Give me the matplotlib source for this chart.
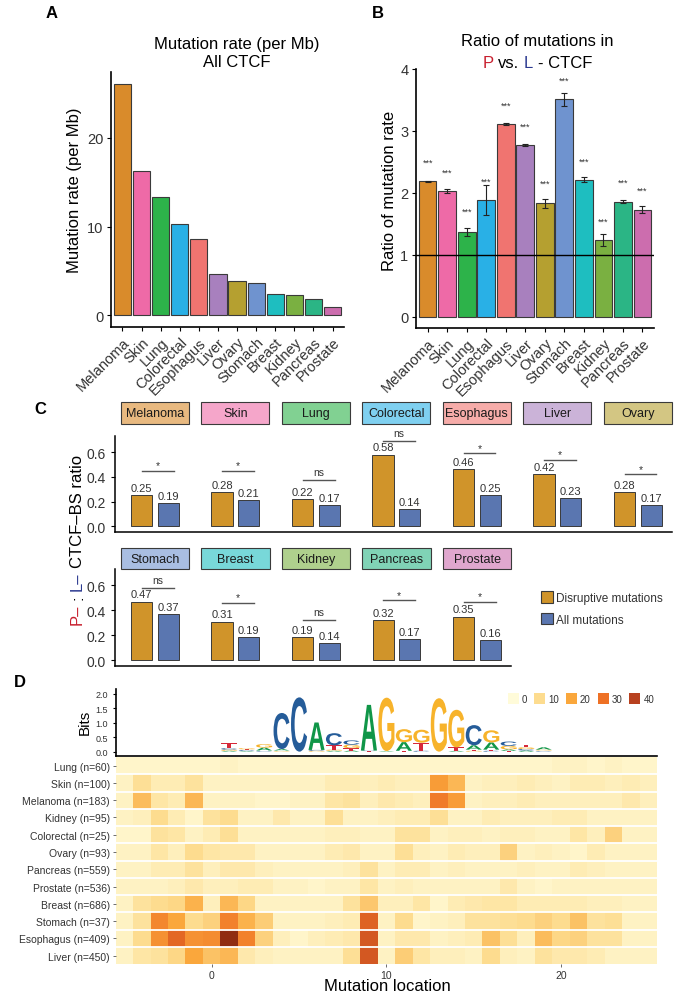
import numpy as np
import matplotlib
matplotlib.use("Agg")
import matplotlib.pyplot as plt
from matplotlib.patches import Rectangle, PathPatch, Patch
from matplotlib.textpath import TextPath
from matplotlib.font_manager import FontProperties
from matplotlib.colors import LinearSegmentedColormap, Normalize, to_rgb
from matplotlib.transforms import Affine2D, IdentityTransform, blended_transform_factory

plt.rcParams['font.family'] = ['Liberation Sans', 'DejaVu Sans']
NARROW = ['Liberation Sans Narrow', 'Liberation Sans', 'DejaVu Sans']

W, H = 683, 1004

# ---------------- data ----------------
cancers = ['Melanoma', 'Skin', 'Lung', 'Colorectal', 'Esophagus', 'Liver',
           'Ovary', 'Stomach', 'Breast', 'Kidney', 'Pancreas', 'Prostate']
cancer_colors = ['#D98B2B', '#EE6AA7', '#2DB34A', '#29B0E6', '#F07470', '#A880BE',
                 '#B5A030', '#6F93CF', '#1EBEC0', '#7AB041', '#2BB585', '#CC6DAE']

# A: mutation rate per Mb
mut_rate = [26.1, 16.3, 13.3, 10.3, 8.65, 4.7, 3.9, 3.6, 2.4, 2.3, 1.9, 1.0]

# B: ratio of mutation rate P vs L
pl_ratio = [2.19, 2.03, 1.37, 1.88, 3.11, 2.77, 1.83, 3.51, 2.21, 1.24, 1.86, 1.73]
pl_err = [0.01, 0.03, 0.06, 0.24, 0.02, 0.02, 0.07, 0.10, 0.04, 0.10, 0.03, 0.06]
pl_star_y = [2.50, 2.34, 1.70, 2.19, 3.42, 3.08, 2.15, 3.82, 2.51, 1.55, 2.17, 2.04]

# C: P- : L- CTCF-BS ratio
c_top = ['Melanoma', 'Skin', 'Lung', 'Colorectal', 'Esophagus', 'Liver', 'Ovary']
c_top_disr = [0.25, 0.28, 0.22, 0.58, 0.46, 0.42, 0.28]
c_top_all = [0.19, 0.21, 0.17, 0.14, 0.25, 0.23, 0.17]
c_top_sig = ['*', '*', 'ns', 'ns', '*', '*', '*']
c_top_sig_y = [0.45, 0.45, 0.376, 0.69, 0.59, 0.54, 0.42]
c_bot = ['Stomach', 'Breast', 'Kidney', 'Pancreas', 'Prostate']
c_bot_disr = [0.47, 0.31, 0.19, 0.32, 0.35]
c_bot_all = [0.37, 0.19, 0.14, 0.17, 0.16]
c_bot_sig = ['ns', '*', 'ns', '*', '*']
c_bot_sig_y = [0.58, 0.46, 0.325, 0.48, 0.47]

# D: heatmap of mutations along the motif (positions -5..25)
heat_pos = list(range(-5, 26))
heat_rows = ['Lung (n=60)', 'Skin (n=100)', 'Melanoma (n=183)', 'Kidney (n=95)',
             'Colorectal (n=25)', 'Ovary (n=93)', 'Pancreas (n=559)', 'Prostate (n=536)',
             'Breast (n=686)', 'Stomach (n=37)', 'Esophagus (n=409)', 'Liver (n=450)']
lung_row = [2, 2, 2, 2, 2, 2, 3, 2, 2, 2, 2, 2, 2, 2, 2, 2, 2, 2, 2, 2, 2, 2, 2, 2, 2, 3, 3, 2, 3, 2, 2]
skin_row = [3, 9, 5, 5, 8, 3, 3, 3, 3, 3, 3, 3, 5, 5, 4, 5, 4, 4, 22, 17, 3, 4, 4, 5, 4, 3, 5, 5, 4, 5, 4]
melanoma_row = [3, 16, 7, 5, 17, 3, 3, 3, 2, 2, 3, 3, 7, 8, 4, 6, 5, 4, 28, 22, 3, 4, 4, 5, 4, 4, 4, 4, 4, 6, 4]
kidney_row = [3, 4, 10, 5, 2, 8, 10, 3, 3, 6, 3, 3, 9, 3, 3, 4, 5, 5, 9, 3, 3, 5, 4, 4, 4, 5, 5, 3, 3, 3, 3]
colorectal_row = [2, 2, 8, 7, 3, 5, 9, 3, 3, 3, 3, 3, 4, 4, 3, 3, 8, 8, 3, 4, 4, 3, 4, 4, 3, 3, 7, 4, 12, 3, 3]
ovary_row = [3, 3, 7, 4, 10, 7, 6, 6, 3, 3, 3, 3, 5, 6, 3, 3, 9, 4, 3, 5, 4, 4, 12, 3, 4, 3, 2, 5, 3, 3, 3]
pancreas_row = [3, 3, 5, 5, 8, 4, 6, 6, 4, 3, 3, 3, 3, 4, 8, 3, 5, 5, 3, 4, 3, 3, 3, 4, 3, 3, 5, 4, 3, 3, 3]
prostate_row = [3, 3, 3, 4, 6, 4, 4, 5, 5, 3, 3, 2, 3, 3, 7, 3, 4, 3, 3, 3, 3, 3, 6, 3, 2, 3, 3, 3, 3, 3, 3]
breast_row = [3, 8, 10, 11, 18, 4, 17, 11, 3, 3, 3, 3, 3, 8, 14, 4, 4, 7, 2, 5, 6, 7, 7, 5, 5, 5, 5, 4, 4, 3, 3]
stomach_row = [3, 8, 26, 20, 10, 12, 27, 18, 13, 3, 3, 3, 4, 5, 33, 3, 10, 2, 3, 4, 8, 8, 9, 10, 12, 10, 15, 8, 9, 3, 3]
esophagus_row = [3, 10, 24, 32, 24, 25, 44, 27, 12, 4, 2, 4, 5, 6, 35, 3, 6, 6, 3, 4, 5, 15, 9, 4, 16, 11, 12, 8, 8, 3, 3]
liver_row = [3, 7, 8, 11, 20, 15, 17, 6, 4, 3, 3, 3, 3, 9, 35, 3, 13, 7, 4, 4, 3, 10, 4, 3, 8, 6, 6, 5, 3, 3, 3]
legend_breaks = [0, 10, 20, 30, 40]

# sequence logo: position -> stacked (letter, bits), bottom to top
logo_pos = list(range(1, 20))
logo_stacks = [
    [('A', 0.03), ('G', 0.04), ('C', 0.05), ('T', 0.17)],
    [('A', 0.02), ('C', 0.03), ('T', 0.03), ('G', 0.04)],
    [('C', 0.02), ('T', 0.02), ('A', 0.10), ('G', 0.12)],
    [('G', 0.02), ('T', 0.02), ('A', 0.05), ('C', 1.25)],
    [('C', 1.88)],
    [('G', 0.03), ('C', 0.03), ('A', 0.95)],
    [('A', 0.03), ('G', 0.04), ('T', 0.15), ('C', 0.42)],
    [('A', 0.04), ('T', 0.08), ('G', 0.12), ('C', 0.15)],
    [('T', 0.02), ('C', 0.02), ('A', 1.58)],
    [('A', 0.02), ('G', 1.85)],
    [('T', 0.03), ('A', 0.30), ('G', 0.45)],
    [('C', 0.03), ('T', 0.28), ('G', 0.45)],
    [('G', 1.85)],
    [('A', 0.03), ('T', 0.12), ('G', 1.30)],
    [('G', 0.03), ('T', 0.04), ('A', 0.15), ('C', 0.70)],
    [('C', 0.03), ('T', 0.04), ('A', 0.25), ('G', 0.42)],
    [('T', 0.03), ('A', 0.05), ('G', 0.12), ('C', 0.15)],
    [('A', 0.04), ('C', 0.05), ('G', 0.06), ('T', 0.08)],
    [('C', 0.02), ('T', 0.02), ('G', 0.03), ('A', 0.08)],
]
base_colors = {'A': '#109648', 'C': '#255C99', 'G': '#F7B32B', 'T': '#D62839'}

ORANGE = '#D0942A'
BLUE = '#5A76B0'
EDGE = '#3a3a3a'
TXT = '#333333'
RED = '#C8202F'
NAVY = '#2B3990'

fig = plt.figure(figsize=(W / 100, H / 100), dpi=100)


def add_ax(l, t, r, b):
    return fig.add_axes([l / W, 1 - b / H, (r - l) / W, (b - t) / H])


def ftext(x, y, s, **kw):
    return fig.text(x / W, 1 - y / H, s, **kw)


def classic(ax, lw=1.2):
    for s in ['top', 'right']:
        ax.spines[s].set_visible(False)
    for s in ['left', 'bottom']:
        ax.spines[s].set_linewidth(lw)
    ax.tick_params(length=3, width=0.8, color='black', labelcolor=TXT)


def lighten(c, a=0.6):
    r = np.array(to_rgb(c))
    return tuple(a * r + (1 - a))


def rich_text(parts, cx, cy, size, vertical=False):
    """Multi-coloured text centred at (cx, cy) in image pixels (y from top)."""
    rend = fig.canvas.get_renderer()

    def width(s):
        t = fig.text(0, 0, s, fontsize=size)
        w = t.get_window_extent(rend).width
        t.remove()
        return w

    sp = width('x x') - width('xx')
    widths = [width(s) for s, _ in parts]
    total = sum(widths) + sp * (len(parts) - 1)
    pos = 0.0
    for (s, c), w in zip(parts, widths):
        if vertical:
            x = cx + 0.36 * size * 100 / 72
            y = (H - cy) - total / 2 + pos
            fig.text(x, y, s, color=c, fontsize=size, rotation=90, rotation_mode='anchor',
                     ha='left', va='baseline', transform=IdentityTransform())
        else:
            x = cx - total / 2 + pos
            y = (H - cy) - 0.36 * size * 100 / 72
            fig.text(x, y, s, color=c, fontsize=size, ha='left', va='baseline',
                     transform=IdentityTransform())
        pos += w + sp


x12 = np.arange(len(cancers))

# ---------------- Panel A ----------------
axA = add_ax(111, 73, 344, 328)
axA.bar(x12, mut_rate, width=0.9, color=cancer_colors, edgecolor=EDGE, linewidth=0.8)
axA.set_xlim(-0.6, 11.6)
axA.set_ylim(-1.3, 27.4)
axA.set_yticks([0, 10, 20])
axA.set_xticks(x12)
axA.set_xticklabels(cancers, rotation=45, ha='right', va='top', rotation_mode='anchor')
classic(axA)
axA.tick_params(labelsize=10.5, pad=2.5)
ftext(237, 44, 'Mutation rate (per Mb)', ha='center', va='center', fontsize=12)
ftext(237, 63, 'All CTCF', ha='center', va='center', fontsize=12)
ftext(75, 190, 'Mutation rate (per Mb)', rotation=90, ha='center', va='center', fontsize=12)
ftext(52, 13, 'A', ha='center', va='center', fontsize=12, fontweight='bold')

# ---------------- Panel B ----------------
axB = add_ax(416, 70, 654, 329)
axB.bar(x12, pl_ratio, width=0.9, color=cancer_colors, edgecolor=EDGE, linewidth=0.8)
axB.errorbar(x12, pl_ratio, yerr=pl_err, fmt='none', ecolor='#222222', elinewidth=0.8,
             capsize=2, capthick=0.8)
for xi, sy in zip(x12, pl_star_y):
    axB.text(xi, sy, '***', ha='center', va='center', fontsize=6.5, color=TXT)
axB.axhline(1, color='black', lw=1.0)
axB.set_xlim(-0.6, 11.6)
axB.set_ylim(-0.18, 4.0)
axB.set_yticks([0, 1, 2, 3, 4])
axB.set_xticks(x12)
axB.set_xticklabels(cancers, rotation=45, ha='right', va='top', rotation_mode='anchor')
classic(axB)
axB.tick_params(labelsize=10.5, pad=2.5)
ftext(537, 42, 'Ratio of mutations in', ha='center', va='center', fontsize=12)
rich_text([('P', RED), ('vs.', 'black'), ('L', NAVY), ('- CTCF', 'black')], 537, 62, 12)
ftext(390, 191, 'Ratio of mutation rate', rotation=90, ha='center', va='center', fontsize=12)
ftext(378, 13, 'B', ha='center', va='center', fontsize=12, fontweight='bold')

# ---------------- Panel C ----------------
PITCH = 1.513


def c_row(ax, names, disr, allm, sig, sig_y, strip_y0, strip_h):
    centers = np.arange(len(names)) * PITCH
    ax.bar(centers - 0.25, disr, width=0.4, color=ORANGE, edgecolor=EDGE, linewidth=0.7)
    ax.bar(centers + 0.25, allm, width=0.4, color=BLUE, edgecolor=EDGE, linewidth=0.7)
    for c, d, a, s, sy in zip(centers, disr, allm, sig, sig_y):
        ax.annotate(f'{d:.2f}', (c - 0.25, d), xytext=(0, 1.5), textcoords='offset points',
                    ha='center', va='bottom', fontsize=8, color=TXT, family=NARROW)
        ax.annotate(f'{a:.2f}', (c + 0.25, a), xytext=(0, 1.5), textcoords='offset points',
                    ha='center', va='bottom', fontsize=8, color=TXT, family=NARROW)
        ax.plot([c - 0.25, c + 0.35], [sy, sy], color='#555555', lw=1.0, clip_on=False)
        ax.annotate(s, (c + 0.05, sy), xytext=(0, 0.5 if s == '*' else 2),
                    textcoords='offset points', ha='center', va='bottom',
                    fontsize=7.5, color=TXT, family=NARROW, annotation_clip=False)
    tr = blended_transform_factory(ax.transData, ax.transAxes)
    for name, c in zip(names, centers):
        col = cancer_colors[cancers.index(name)]
        ax.add_patch(Rectangle((c - 0.64, strip_y0), 1.28, strip_h, transform=tr,
                               facecolor=lighten(col), edgecolor=EDGE, lw=0.8, clip_on=False))
        ax.text(c, strip_y0 + strip_h / 2, name, transform=tr, ha='center', va='center',
                fontsize=9, color='#1a1a1a', family=NARROW)
    ax.set_ylim(-0.045, 0.73)
    ax.set_yticks([0, 0.2, 0.4, 0.6])
    ax.set_yticklabels(['0.0', '0.2', '0.4', '0.6'])
    ax.set_xticks([])
    classic(ax, lw=1.1)
    ax.tick_params(labelsize=10)


axCt = add_ax(115, 437, 672, 533)
axCt.set_xlim(-0.75, 9.72)
c_row(axCt, c_top, c_top_disr, c_top_all, c_top_sig, c_top_sig_y, 1.125, 0.226)

axCb = add_ax(115, 570, 511, 667)
axCb.set_xlim(-0.75, 6.69)
c_row(axCb, c_bot, c_bot_disr, c_bot_all, c_bot_sig, c_bot_sig_y, 1.0, 0.213)

leg_handles = [Patch(facecolor=ORANGE, edgecolor=EDGE, lw=0.8, label='Disruptive mutations'),
               Patch(facecolor=BLUE, edgecolor=EDGE, lw=0.8, label='All mutations')]
lg = axCb.legend(handles=leg_handles, loc='upper left', bbox_to_anchor=(541 / W, 1 - 592 / H),
                 bbox_transform=fig.transFigure, frameon=False, fontsize=8.5,
                 handlelength=1.0, handleheight=1.15, labelspacing=0.75, handletextpad=0.3,
                 borderpad=0, borderaxespad=0)
for t in lg.get_texts():
    t.set_family(NARROW)
    t.set_color(TXT)

rich_text([('P–', RED), (':', 'black'), ('L–', NAVY), ('CTCF–BS ratio', 'black')], 76, 540, 12,
          vertical=True)
ftext(40, 410, 'C', ha='center', va='center', fontsize=12, fontweight='bold')

# ---------------- Panel D: logo ----------------
axL = add_ax(115.6, 690, 657.2, 756.7)
fp = FontProperties(family='Liberation Sans', weight='bold')
for p, stack in zip(logo_pos, logo_stacks):
    y0 = 0.0
    for letter, h in stack:
        tp = TextPath((0, 0), letter, size=1, prop=fp)
        bb = tp.get_extents()
        tf = (Affine2D().translate(-bb.x0, -bb.y0)
              .scale(0.92 / bb.width, h / bb.height)
              .translate(p - 0.46, y0))
        axL.add_patch(PathPatch(tf.transform_path(tp), facecolor=base_colors[letter], lw=0))
        y0 += h
axL.set_xlim(-5.5, 25.5)
axL.set_ylim(-0.14, 2.17)
axL.set_xticks([])
axL.set_yticks([0, 0.5, 1.0, 1.5, 2.0])
axL.set_yticklabels(['0.0', '0.5', '1.0', '1.5', '2.0'])
classic(axL, lw=1.2)
axL.tick_params(labelsize=6.5, length=2)
ftext(85, 722, 'Bits', rotation=90, ha='center', va='center', fontsize=11)

# ---------------- Panel D: heatmap ----------------
heat = np.array([lung_row, skin_row, melanoma_row, kidney_row, colorectal_row, ovary_row,
                 pancreas_row, prostate_row, breast_row, stomach_row, esophagus_row, liver_row])
cmap = LinearSegmentedColormap.from_list(
    'heat', [(0, '#FFFBD9'), (10 / 45, '#FDDC8E'), (20 / 45, '#FAA73C'),
             (30 / 45, '#EE7125'), (40 / 45, '#B9411F'), (1, '#87270F')])
norm = Normalize(0, 45)

axH = add_ax(115.6, 758, 657.2, 965.3)
xe = np.arange(heat_pos[0] - 0.5, heat_pos[-1] + 1.0)
ye = np.arange(len(heat_rows) + 1)
axH.pcolormesh(xe, ye, heat, cmap=cmap, norm=norm, edgecolors='none')
for yb in range(1, len(heat_rows)):
    axH.axhline(yb, color='white', lw=1.3)
axH.set_ylim(len(heat_rows), 0)
axH.set_xlim(xe[0], xe[-1])
axH.set_yticks(np.arange(len(heat_rows)) + 0.5)
axH.set_yticklabels(heat_rows, family=NARROW)
axH.set_xticks([0, 10, 20])
for s in axH.spines.values():
    s.set_visible(False)
axH.tick_params(length=2, width=0.6, color='#555555', labelcolor=TXT, labelsize=7.5, pad=2)
ftext(387, 987, 'Mutation location', ha='center', va='center', fontsize=12)
ftext(20, 683, 'D', ha='center', va='center', fontsize=12, fontweight='bold')

hl = [Patch(facecolor=cmap(norm(v)), edgecolor='none', label=str(v)) for v in legend_breaks]
lg2 = axL.legend(handles=hl, loc='upper left', bbox_to_anchor=(508 / W, 1 - 694 / H),
                 bbox_transform=fig.transFigure, frameon=False, fontsize=7, ncol=5,
                 handlelength=1.15, handleheight=1.35, handletextpad=0.3, columnspacing=0.7,
                 borderpad=0, borderaxespad=0)
for t in lg2.get_texts():
    t.set_color(TXT)

fig.savefig('out.png', dpi=100)
